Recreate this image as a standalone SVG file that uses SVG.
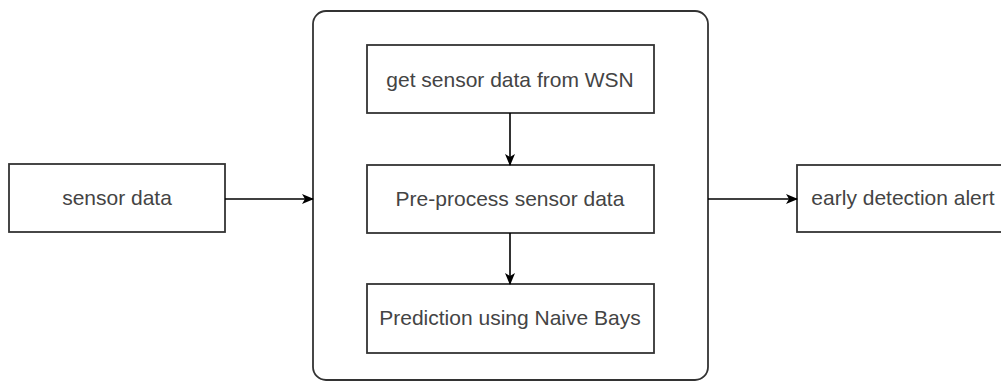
<svg xmlns="http://www.w3.org/2000/svg" width="1001" height="382" viewBox="0 0 1001 382">
  <style>
    .box { fill: #ffffff; stroke: #333333; stroke-width: 1.8; }
    .label { font-family: "Liberation Sans", Arial, sans-serif; font-size: 21px; fill: #444444; text-anchor: middle; }
    .edge { stroke: #000000; stroke-width: 1.6; fill: none; marker-end: url(#arrow); }
  </style>
  <defs>
    <marker id="arrow" viewBox="0 0 12 10" refX="11" refY="5" markerWidth="12" markerHeight="10" markerUnits="userSpaceOnUse" orient="auto">
      <path d="M0,0 L12,5 L0,10 L3,5 Z" fill="#000000"/>
    </marker>
  </defs>
  <rect width="1001" height="382" fill="#ffffff"/>

  <!-- processing container -->
  <g id="container">
    <rect class="box" x="313" y="11" width="395" height="369" rx="13" ry="13"/>
  </g>

  <g id="sensor-data">
    <rect class="box" x="9" y="164" width="216" height="68"/>
    <text class="label" x="117" y="205">sensor data</text>
  </g>

  <g id="get-sensor-data">
    <rect class="box" x="367" y="45" width="287" height="68"/>
    <text class="label" x="510" y="87">get sensor data from WSN</text>
  </g>

  <g id="pre-process">
    <rect class="box" x="367" y="165" width="287" height="68"/>
    <text class="label" x="510" y="206">Pre-process sensor data</text>
  </g>

  <g id="prediction">
    <rect class="box" x="367" y="284" width="287" height="69"/>
    <text class="label" x="510" y="325">Prediction using Naive Bays</text>
  </g>

  <g id="early-alert">
    <rect class="box" x="797" y="165" width="216" height="67"/>
    <text class="label" x="903" y="205">early detection alert</text>
  </g>

  <!-- connectors -->
  <g id="connectors">
    <line class="edge" x1="225" y1="199" x2="313" y2="199"/>
    <line class="edge" x1="510" y1="113" x2="510" y2="165"/>
    <line class="edge" x1="510" y1="233" x2="510" y2="284"/>
    <line class="edge" x1="708" y1="199" x2="797" y2="199"/>
  </g>
</svg>
